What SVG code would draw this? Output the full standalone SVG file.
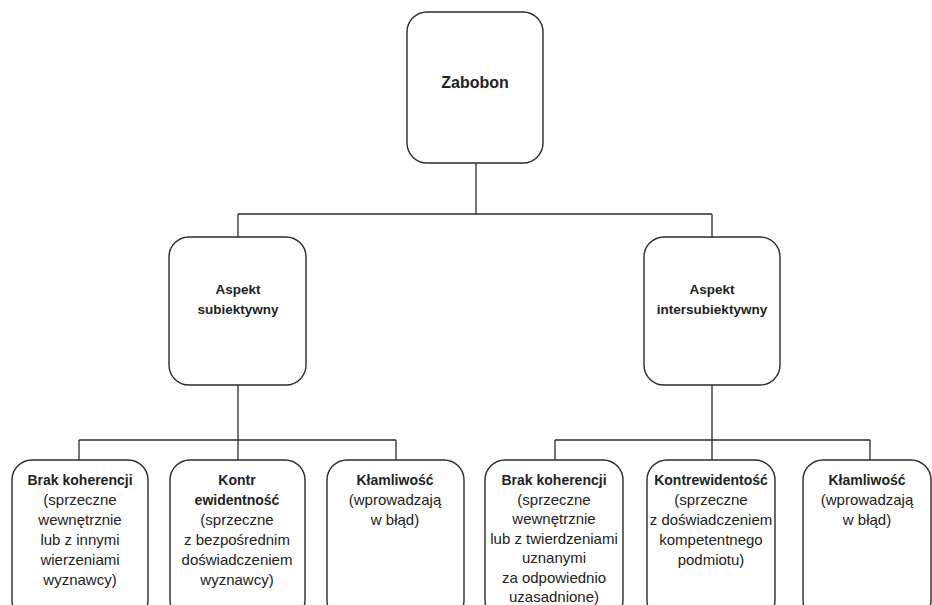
<svg xmlns="http://www.w3.org/2000/svg" width="932" height="605" viewBox="0 0 932 605">
<style>
.box{fill:#fff;stroke:#2b2b2b;stroke-width:1.4}
.conn{fill:none;stroke:#2b2b2b;stroke-width:1.3}
text{font-family:"Liberation Sans",Arial,sans-serif;fill:#222;text-anchor:middle}
.t{font-size:16px;font-weight:bold}
.h{font-size:13.5px;font-weight:bold}
.s{font-size:14px;font-weight:bold}
.b{font-size:15px}
</style>
<g id="connectors">
<path class="conn" d="M476 163V214M238 214H712M238 214V237M712 214V237"/>
<path class="conn" d="M238 385V440M79 440H396M79 440V460M238 440V460M396 440V460"/>
<path class="conn" d="M712 385V440M555 440H870M555 440V460M712 440V460M870 440V460"/>
</g>
<g id="zabobon">
<rect class="box" x="407" y="12" width="136" height="151" rx="20"/>
<text class="t" x="475" y="88">Zabobon</text>
</g>
<g id="aspekt-subiektywny">
<rect class="box" x="169" y="237" width="137" height="148" rx="20"/>
<text class="h" x="238" y="294">Aspekt</text>
<text class="h" x="238" y="314">subiektywny</text>
</g>
<g id="aspekt-intersubiektywny">
<rect class="box" x="644" y="237" width="136" height="148" rx="20"/>
<text class="h" x="712" y="294">Aspekt</text>
<text class="h" x="712" y="314">intersubiektywny</text>
</g>
<g id="brak-koherencji-1">
<rect class="box" x="12" y="460" width="136" height="160" rx="20"/>
<text class="s" x="80" y="485">Brak koherencji</text>
<text class="b" x="80" y="505">(sprzeczne</text>
<text class="b" x="80" y="525">wewnętrznie</text>
<text class="b" x="80" y="545">lub z innymi</text>
<text class="b" x="80" y="565">wierzeniami</text>
<text class="b" x="80" y="585">wyznawcy)</text>
</g>
<g id="kontr-ewidentnosc">
<rect class="box" x="170" y="460" width="135" height="160" rx="20"/>
<text class="s" x="237" y="485">Kontr</text>
<text class="s" x="237" y="505">ewidentność</text>
<text class="b" x="237" y="525">(sprzeczne</text>
<text class="b" x="237" y="545">z bezpośrednim</text>
<text class="b" x="237" y="565">doświadczeniem</text>
<text class="b" x="237" y="585">wyznawcy)</text>
</g>
<g id="klamliwosc-1">
<rect class="box" x="327" y="460" width="137" height="160" rx="20"/>
<text class="s" x="395" y="485">Kłamliwość</text>
<text class="b" x="395" y="505">(wprowadzają</text>
<text class="b" x="395" y="525">w błąd)</text>
</g>
<g id="brak-koherencji-2">
<rect class="box" x="485" y="460" width="138" height="160" rx="20"/>
<text class="s" x="554" y="485">Brak koherencji</text>
<text class="b" x="554" y="504.5">(sprzeczne</text>
<text class="b" x="554" y="524">wewnętrznie</text>
<text class="b" x="554" y="543.5">lub z twierdzeniami</text>
<text class="b" x="554" y="563">uznanymi</text>
<text class="b" x="554" y="582.5">za odpowiednio</text>
<text class="b" x="554" y="602">uzasadnione)</text>
</g>
<g id="kontrewidentosc">
<rect class="box" x="647" y="460" width="128" height="160" rx="20"/>
<text class="s" x="711" y="485">Kontrewidentość</text>
<text class="b" x="711" y="505">(sprzeczne</text>
<text class="b" x="711" y="525">z doświadczeniem</text>
<text class="b" x="711" y="545">kompetentnego</text>
<text class="b" x="711" y="565">podmiotu)</text>
</g>
<g id="klamliwosc-2">
<rect class="box" x="803" y="460" width="128" height="160" rx="20"/>
<text class="s" x="867" y="485">Kłamliwość</text>
<text class="b" x="867" y="505">(wprowadzają</text>
<text class="b" x="867" y="525">w błąd)</text>
</g>
</svg>
